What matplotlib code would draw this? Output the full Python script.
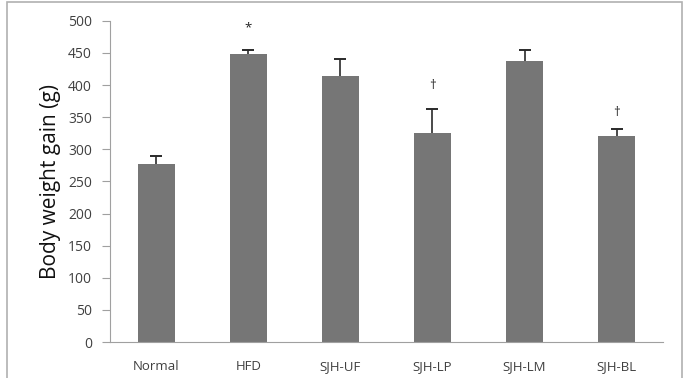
import numpy as np
import matplotlib.pyplot as plt
from matplotlib.patches import Rectangle

plt.rcParams['font.family'] = ['Open Sans', 'DejaVu Sans']

groups = ['Normal', 'HFD', 'SJH-UF', 'SJH-LP', 'SJH-LM', 'SJH-BL']
gain = [277, 449, 414, 325, 437, 321]
err = [12, 6, 26, 38, 18, 11]
marks = ['', '*', '', '\u2020', '', '\u2020']
mark_y = [None, 489, None, 400, None, 357]

fig = plt.figure(figsize=(6.89, 3.78), dpi=100)
ax = fig.add_axes([0.1597, 0.0952, 0.8023, 0.8497])

x = np.arange(len(groups))
tops = np.array(gain) + np.array(err)
ax.bar(x, gain, width=0.4, color='#767676', zorder=2)
# upper error bars only, cap on top
ax.vlines(x, gain, tops, color='#2a2a2a', linewidth=1.2, zorder=3)
ax.plot(x, tops, linestyle='none', marker='_', markersize=9, markeredgewidth=1.4,
        color='#2a2a2a', zorder=3)

for i, m in enumerate(marks):
    if m:
        ax.text(x[i], mark_y[i], m, ha='center', va='center', fontsize=9.5, color='#222222')

ax.set_xlim(-0.5, len(groups) - 0.5)
ax.set_ylim(0, 500)
ax.set_yticks(range(0, 501, 50))
ax.set_xticks(x)
ax.set_xticklabels(groups, fontsize=9.5, color='#404040')
ax.tick_params(axis='y', labelsize=10, labelcolor='#404040', length=6, width=0.8,
               color='#a0a0a0', pad=7)
ax.tick_params(axis='x', length=0, pad=13)
for s in ['top', 'right']:
    ax.spines[s].set_visible(False)
ax.spines['left'].set_color('#a0a0a0')
ax.spines['bottom'].set_color('#a0a0a0')
ax.set_ylabel('Body weight gain (g)', fontsize=15, color='#111111', labelpad=5)

# light frame around the chart area
fig.patches.append(Rectangle((0.0102, -0.05), 0.9797, 1.045, transform=fig.transFigure,
                             fill=False, edgecolor='#b0b0b0', linewidth=1.2))

fig.savefig('out.png', dpi=100)
